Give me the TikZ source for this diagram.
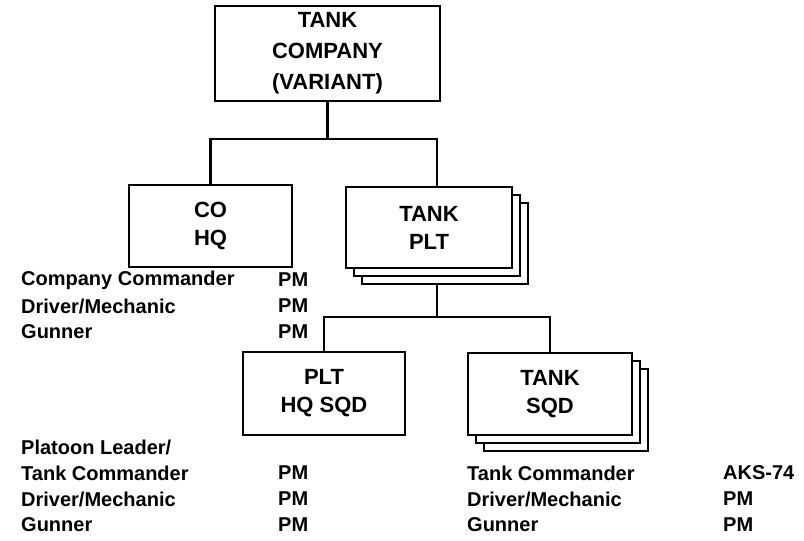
\documentclass[tikz,border=0pt]{standalone}
\usepackage{fontspec}
\setmainfont{Liberation Sans}
\tikzset{
  unit/.style={draw=black, line width=2.2pt, fill=white, align=center, inner sep=0pt,
    minimum width=164pt, minimum height=82pt, font=\fontsize{22}{28}\selectfont\bfseries},
  role/.style={anchor=west, inner sep=0pt, font=\fontsize{20}{24}\selectfont\bfseries},
  link/.style={line width=2.2pt}
}

\begin{document}
\begin{tikzpicture}[x=1pt, y=-1pt]
  \fill[white] (0,0) rectangle (804,541);
  \useasboundingbox (0,0) rectangle (804,541);

  % company
  \node[unit, minimum width=225pt, minimum height=95pt, font=\fontsize{22}{31}\selectfont\bfseries] (company) at (327.5,53.5) {TANK\\COMPANY\\(VARIANT)};

  % second level
  \node[unit, minimum width=163pt] (cohq) at (210.5,226) {CO\\HQ};
  \node[unit, minimum width=166pt, minimum height=81pt] (plt3) at (445,243.5) {};
  \node[unit, minimum width=166pt, minimum height=81pt] (plt2) at (437,235.5) {};
  \node[unit, minimum width=166pt, minimum height=81pt] (plt) at (429,227.5) {TANK\\PLT};

  % third level
  \node[unit, minimum width=162pt, minimum height=83pt] (hqsqd) at (324,393.5) {PLT\\HQ SQD};
  \node[unit] (sqd3) at (566,410) {};
  \node[unit] (sqd2) at (558,402) {};
  \node[unit] (sqd) at (550,394) {TANK\\SQD};

  % connectors
  \draw[link] (company.south) -- ++(0,37) coordinate (bus1);
  \draw[link] (cohq.north) |- (bus1) -| ([xshift=8pt]plt.north);
  \draw[link] ([xshift=-8pt]plt3.south) -- ++(0,32) coordinate (bus2);
  \draw[link] (hqsqd.north) |- (bus2) -| (sqd.north);

  % CO HQ weapons
  \node[role] (hq1) at (21,280) {Company Commander};
  \node[role] (hq2) at (21,306) {Driver/Mechanic};
  \node[role] (hq3) at (21,332) {Gunner};
  \node[role] (hqw1) at (278,280) {PM};
  \node[role] (hqw2) at (278,306) {PM};
  \node[role] (hqw3) at (278,332) {PM};

  % PLT HQ SQD weapons
  \node[role] (pl0) at (21,447) {Platoon Leader/};
  \node[role] (pl1) at (21,473) {Tank Commander};
  \node[role] (pl2) at (21,499) {Driver/Mechanic};
  \node[role] (pl3) at (21,525) {Gunner};
  \node[role] (plw1) at (278,473) {PM};
  \node[role] (plw2) at (278,499) {PM};
  \node[role] (plw3) at (278,525) {PM};

  % TANK SQD weapons
  \node[role] (sq1) at (467,473) {Tank Commander};
  \node[role] (sq2) at (467,499) {Driver/Mechanic};
  \node[role] (sq3) at (467,525) {Gunner};
  \node[role] (sqw1) at (723,473) {AKS-74};
  \node[role] (sqw2) at (723,499) {PM};
  \node[role] (sqw3) at (723,525) {PM};
\end{tikzpicture}
\end{document}
